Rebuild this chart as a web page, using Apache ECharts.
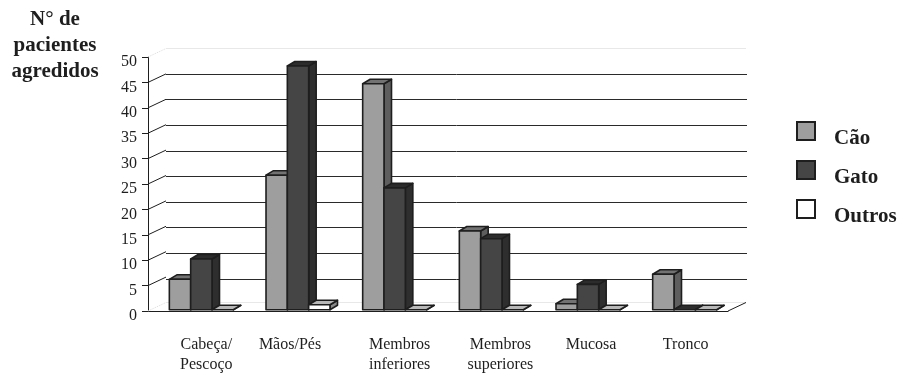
<!DOCTYPE html>
<html>
<head>
<meta charset="utf-8">
<style>html,body{margin:0;padding:0;background:#fff}#c{width:899px;height:373px}</style>
<script src="https://cdn.jsdelivr.net/npm/echarts@6/dist/echarts.min.js"></script>
</head>
<body>
<div id="c"></div>
<script>
const categories = ['Cabeça/\nPescoço', 'Mãos/Pés', 'Membros\ninferiores', 'Membros\nsuperiores', 'Mucosa', 'Tronco'];
const cao = [6, 26.5, 44.5, 15.5, 1.2, 7];
const gato = [10, 48, 24, 14, 5, 0];
const outros = [0, 1, 0, 0, 0, 0];
const yTicks = [0, 5, 10, 15, 20, 25, 30, 35, 40, 45, 50];
const labelNudge = [20, -6, 20, 28, 16, 12];

const serif = '"Liberation Serif", serif';
const ink = '#1e1e1e';
// Projection of the depth axis: back wall offset and the plane the bars stand on
const wall = { dx: 18, dy: -8.5 };
const plane = { dx: 5, dy: -1.2 };
const depth = { dx: 7.5, dy: -4.5 };
const barShare = 0.2206;

const shades = {
  'Cão': { front: '#9e9e9e', top: '#727272', side: '#5e5e5e' },
  'Gato': { front: '#454545', top: '#2c2c2c', side: '#2e2e2e' },
  'Outros': { front: '#ffffff', top: '#b8b8b8', side: '#8a8a8a' }
};

function boxSeries(name, values, slot) {
  const c = shades[name];
  return {
    name, type: 'custom', xAxisIndex: 0, yAxisIndex: 0, z: 5,
    itemStyle: { color: c.front, borderColor: ink },
    data: values.map((v, i) => [i, v]),
    encode: { x: 0, y: 1 },
    renderItem(params, api) {
      const base = api.coord([api.value(0), 0]);
      const head = api.coord([api.value(0), api.value(1)]);
      const w = api.size([1, 0])[0] * barShare;
      const x0 = base[0] + (slot - 1.5) * w + plane.dx;
      const x1 = x0 + w;
      const y0 = base[1] + plane.dy;
      const y1 = head[1] + plane.dy;
      const stroke = { stroke: ink, lineWidth: 1.6, lineJoin: 'round' };
      const top = [[x0, y1], [x1, y1], [x1 + depth.dx, y1 + depth.dy], [x0 + depth.dx, y1 + depth.dy]];
      const side = [[x1, y0], [x1 + depth.dx, y0 + depth.dy], [x1 + depth.dx, y1 + depth.dy], [x1, y1]];
      const children = [
        { type: 'polygon', shape: { points: side }, style: { fill: c.side, ...stroke } },
        { type: 'polygon', shape: { points: top }, style: { fill: c.top, ...stroke } }
      ];
      if (y0 > y1) {
        children.push({ type: 'rect', shape: { x: x0, y: y1, width: w, height: y0 - y1 }, style: { fill: c.front, ...stroke } });
      }
      return { type: 'group', children };
    }
  };
}

// Diagonal links between the value ticks and the back wall, plus the faint floor and ceiling lines
const wallLinks = {
  type: 'custom', xAxisIndex: 0, yAxisIndex: 0, silent: true, z: 3,
  legendHoverLink: false,
  data: yTicks.map(t => [0, t]),
  encode: { x: 0, y: 1 },
  renderItem(params, api) {
    const t = api.value(1);
    const size = api.size([1, 0])[0];
    const p = api.coord([0, t]);
    const x = p[0] - size / 2;
    const edge = t === 0 || t === 50;
    const col = edge ? '#dddddd' : ink;
    const children = [{
      type: 'line',
      shape: { x1: x, y1: p[1], x2: x + wall.dx, y2: p[1] + wall.dy },
      style: { stroke: col, lineWidth: 1, lineDash: edge ? [1, 1] : null }
    }];
    if (edge) {
      children.push({
        type: 'line',
        shape: { x1: x + wall.dx, y1: p[1] + wall.dy, x2: x + wall.dx + size * categories.length, y2: p[1] + wall.dy },
        style: { stroke: '#e8e8e8', lineWidth: 1 }
      });
    }
    if (t === 0) {
      const xr = x + size * categories.length;
      children.push({
        type: 'line',
        shape: { x1: xr, y1: p[1], x2: xr + wall.dx, y2: p[1] + wall.dy },
        style: { stroke: ink, lineWidth: 1 }
      });
    }
    return { type: 'group', children };
  }
};

const labelRich = {};
labelNudge.forEach((n, i) => {
  labelRich['c' + i] = {
    fontFamily: serif, fontSize: 16, color: ink, lineHeight: 20, align: 'center',
    padding: n >= 0 ? [0, 0, 0, n] : [0, -n, 0, 0]
  };
});

const chart = echarts.init(document.getElementById('c'), null, { renderer: 'canvas' });
chart.setOption({
  backgroundColor: '#fff',
  animation: false,
  title: {
    text: 'N° de\npacientes\nagredidos',
    left: 50, top: 2, textAlign: 'center',
    textStyle: { fontFamily: serif, fontWeight: 'bold', fontSize: 21, lineHeight: 26, color: ink }
  },
  legend: {
    orient: 'vertical', left: 796, top: 121, padding: 0,
    itemWidth: 18, itemHeight: 18, itemGap: 10.5,
    icon: 'rect',
    itemStyle: { borderColor: ink, borderWidth: 2 },
    formatter: name => `{t|${name}}`,
    textStyle: {
      rich: { t: { fontFamily: serif, fontWeight: 'bold', fontSize: 21, color: ink, padding: [16, 0, 0, 14] } }
    },
    data: ['Cão', 'Gato', 'Outros']
  },
  grid: [
    { left: 148, top: 57, width: 580, height: 256 },
    { left: 166, top: 48.5, width: 581, height: 256 }
  ],
  xAxis: [
    {
      gridIndex: 0, type: 'category', data: categories,
      axisLine: { lineStyle: { color: ink, width: 1 } },
      axisTick: { length: 5, alignWithLabel: false, lineStyle: { color: ink } },
      axisLabel: {
        interval: 0, margin: 24, rich: labelRich,
        formatter(value, index) {
          return value.split('\n').map(l => `{c${index}|${l}}`).join('\n');
        }
      }
    },
    { gridIndex: 1, type: 'category', data: categories, show: false }
  ],
  yAxis: [
    {
      gridIndex: 0, type: 'value', min: 0, max: 50, interval: 5,
      axisLine: { show: true, lineStyle: { color: ink, width: 1 } },
      axisTick: { show: true, length: 6, lineStyle: { color: ink } },
      axisLabel: {
        margin: 11,
        formatter: '{v|{value}}',
        rich: { v: { fontFamily: serif, fontSize: 16, color: ink, padding: [10, 0, 0, 0] } }
      },
      splitLine: { show: false }
    },
    {
      gridIndex: 1, type: 'value', min: 0, max: 50, interval: 5,
      axisLine: { show: false }, axisTick: { show: false }, axisLabel: { show: false },
      splitLine: { show: true, showMinLine: false, showMaxLine: false, lineStyle: { color: '#2a2a2a', width: 1 } }
    }
  ],
  series: [
    wallLinks,
    boxSeries('Cão', cao, 0),
    boxSeries('Gato', gato, 1),
    boxSeries('Outros', outros, 2)
  ]
});
</script>
</body>
</html>
